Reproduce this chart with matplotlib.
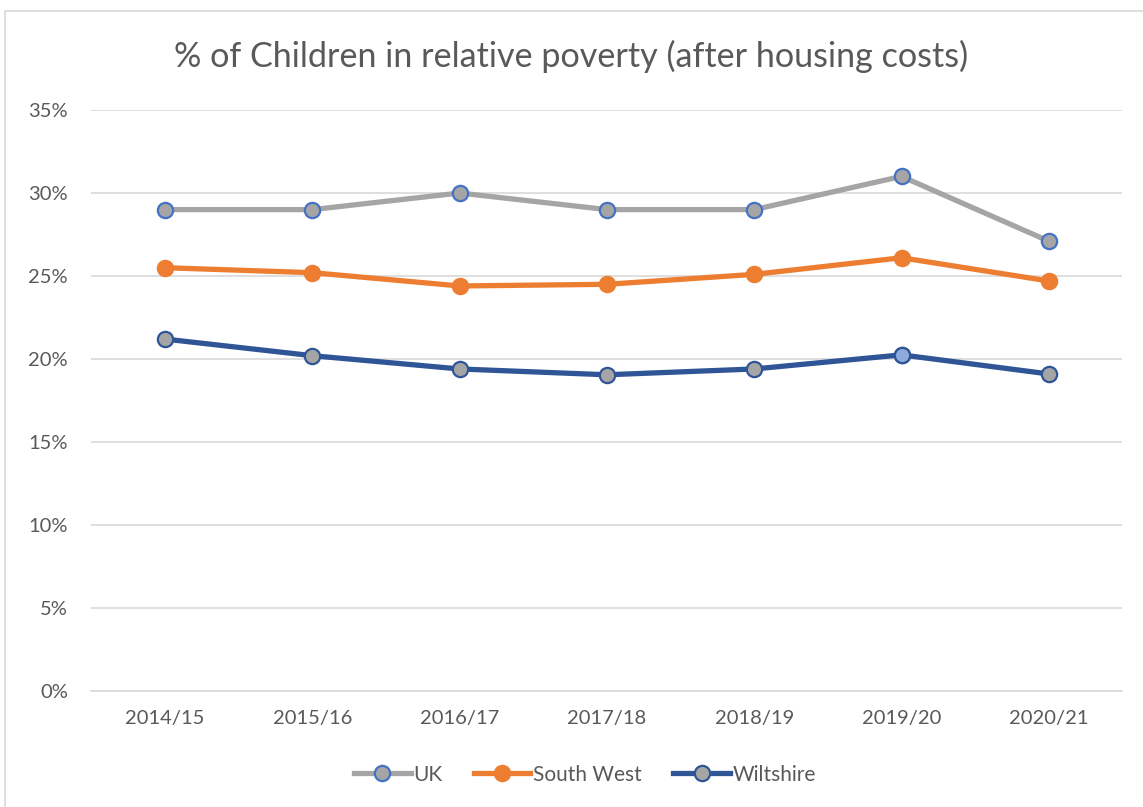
import matplotlib.pyplot as plt
from matplotlib.patches import Rectangle

years = ['2014/15', '2015/16', '2016/17', '2017/18', '2018/19', '2019/20', '2020/21']
uk = [29.0, 29.0, 30.0, 29.0, 29.0, 31.0, 27.1]
south_west = [25.5, 25.2, 24.4, 24.5, 25.1, 26.1, 24.7]
wiltshire = [21.2, 20.2, 19.4, 19.05, 19.4, 20.25, 19.1]

plt.rcParams['font.family'] = ['Lato', 'DejaVu Sans']
txt = '#595959'

fig = plt.figure(figsize=(11.43, 8.07), dpi=100)
ax = fig.add_axes([0.080, 0.1437, 0.902, 0.72])

x = range(len(years))
ax.plot(x, uk, color='#A5A5A5', lw=3.8, marker='o', ms=11,
        mfc='#A5A5A5', mec='#4472C4', mew=1.6, label='UK', zorder=3)
ax.plot(x, south_west, color='#ED7D31', lw=3.8, marker='o', ms=11,
        mfc='#ED7D31', mec='#ED7D31', mew=1.6, label='South West', zorder=3)
ax.plot(x, wiltshire, color='#2F5597', lw=3.8, marker='o', ms=11,
        mfc='#A5A5A5', mec='#2F5597', mew=1.6, label='Wiltshire', zorder=3)
# the 2019/20 point is highlighted in light blue
ax.plot([5], [wiltshire[5]], ls='none', marker='o', ms=11,
        mfc='#8FAADC', mec='#2F5597', mew=1.6, zorder=4)

ax.set_xlim(-0.5, 6.5)
ax.set_ylim(0, 35)
ax.set_xticks(list(x))
ax.set_xticklabels(years)
ax.set_yticks(range(0, 36, 5))
ax.set_yticklabels([f'{v}%' for v in range(0, 36, 5)])
ax.tick_params(length=0, labelsize=14.5, colors=txt)
ax.tick_params(axis='x', pad=14)
ax.tick_params(axis='y', pad=17)
ax.grid(axis='y', color='#D9D9D9', lw=1.2)
ax.set_axisbelow(True)
for s in ['top', 'right', 'left']:
    ax.spines[s].set_visible(False)
ax.spines['bottom'].set_color('#D9D9D9')
ax.spines['bottom'].set_linewidth(1.2)

fig.text(0.5, 0.930, '% of Children in relative poverty (after housing costs)',
         ha='center', va='center', fontsize=24.6, color=txt)

fig.legend(loc='center', bbox_to_anchor=(0.512, 0.04), ncol=3, frameon=False,
           fontsize=15, labelcolor=txt, handlelength=2.7, columnspacing=1.5,
           handletextpad=0.15)

fig.patches.append(Rectangle((0.004, -0.1), 1.2, 1.086, transform=fig.transFigure,
                             fill=False, ec='#D9D9D9', lw=1.2))

fig.savefig('out.png', dpi=100)
